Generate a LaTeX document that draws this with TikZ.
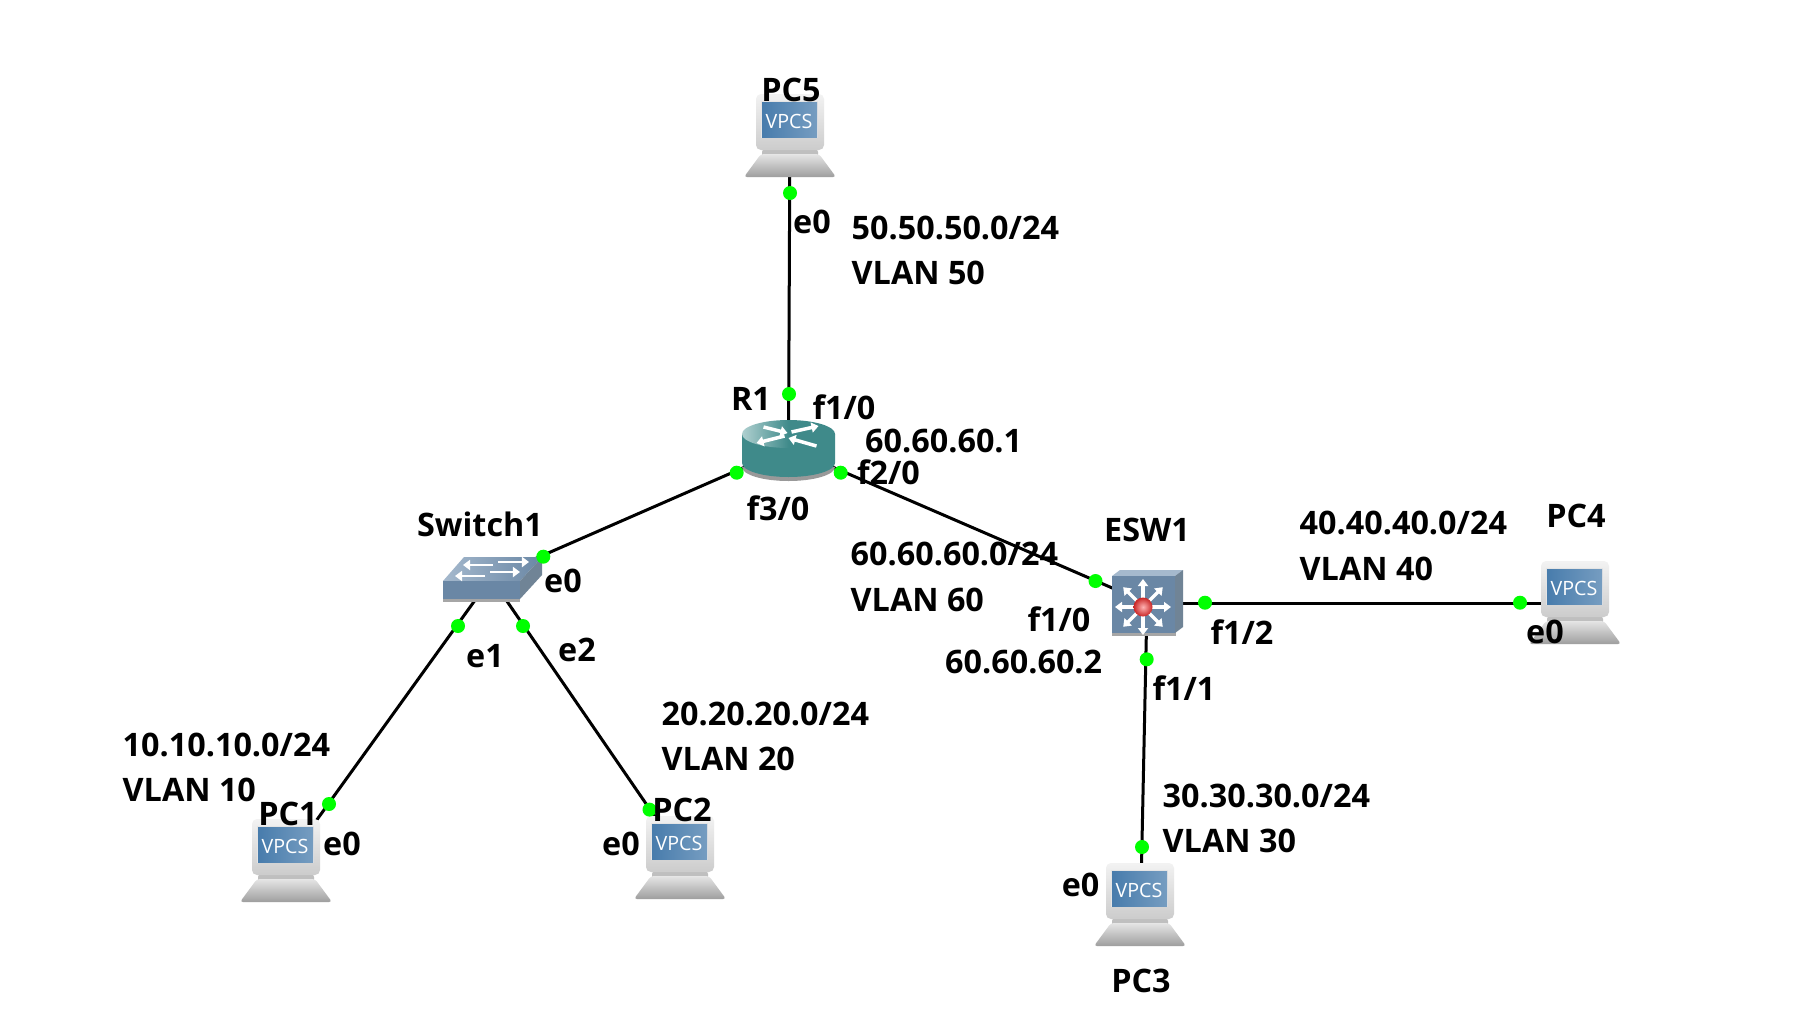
\documentclass[tikz,border=0pt]{standalone}
\usepackage{fontspec}
\setmainfont{Open Sans}
\usetikzlibrary{arrows.meta}
\definecolor{linkdot}{RGB}{0,255,0}
\definecolor{steel}{RGB}{106,135,165}
\definecolor{steeldark}{RGB}{112,132,150}
\definecolor{steellight}{RGB}{165,185,205}
\definecolor{teal1}{RGB}{63,138,138}
\definecolor{tealtop}{RGB}{175,208,208}
\definecolor{screenblue}{RGB}{72,124,172}
\tikzset{
	device/.style={inner sep=0pt,minimum size=0pt},
	link/.style={line width=0.03cm,black},
	portdot/.style={circle,fill=linkdot,inner sep=0pt,minimum size=0.14cm},
	lbl/.style={font=\fontsize{9.2pt}{11pt}\selectfont\bfseries,inner sep=0pt,text=black},
	lblw/.style={lbl,anchor=west},
	whitearrow/.style={white,line width=0.035cm,-{Triangle[length=0.07cm,width=0.1cm]}},
	thinarrow/.style={whitearrow,line width=0.025cm},
	vpcs/.pic={
		\fill[black!25,rounded corners=0.03cm] (-28,28) rectangle (28,36);
		\shade[top color=black!5,bottom color=black!20,rounded corners=0.05cm] (-34,-27) rectangle (34,29);
		\fill[white!80!gray] (-29,-20) rectangle (28,17);
		\shade[left color=screenblue,right color=screenblue!75!white] (-28,-19) rectangle (27,16);
		\node[white,inner sep=0pt,font=\fontsize{5.6pt}{6pt}\selectfont] (txt) at (-1,0) {VPCS};
		\shade[top color=black!10,bottom color=black!38,rounded corners=0.03cm] (-29,33) -- (29,33) -- (46,56) -- (-46,56) -- cycle;
	},
	routericon/.pic={
		\fill[black!40] (-46.5,19) arc[start angle=180,end angle=360,x radius=46.5,y radius=-14] -- cycle;
		\fill[teal1] (-46.5,-14) -- (-46.5,15) arc[start angle=180,end angle=360,x radius=46.5,y radius=-14] -- (46.5,-14) -- cycle;
		\shade[left color=tealtop,right color=teal1,middle color=teal1] (0,-14) circle[x radius=46.5,y radius=14];
		\draw[whitearrow] (-25,-21) -- (-1,-15);
		\draw[whitearrow] (3,-16) -- (30,-22);
		\draw[whitearrow] (-4,-12) -- (-32,-5);
		\draw[whitearrow] (28,-2) -- (0,-10);
	},
	switchicon/.pic={
		\fill[black!35] (-48,3) rectangle (29,24);
		\shade[left color=steellight,right color=steel] (-27,-21) -- (51,-21) -- (29,3) -- (-48,3) -- cycle;
		\fill[steel] (-48,3) rectangle (29,21);
		\fill[steeldark] (29,3) -- (51,-21) -- (51,-3) -- (29,21) -- cycle;
		\draw[thinarrow] (2,-13) -- (-28,-13);
		\draw[thinarrow] (7,-16) -- (38,-16);
		\draw[thinarrow] (-6,-2) -- (-36,-2);
		\draw[thinarrow] (-1,-6) -- (29,-6);
	},
	eswicon/.pic={
		\fill[black!35] (-35,-27) rectangle (29,33);
		\fill[steellight] (-35,-27) -- (-27,-33) -- (36,-33) -- (28,-27) -- cycle;
		\fill[steeldark] (28,-27) -- (36,-33) -- (36,24) -- (28,30) -- cycle;
		\fill[steel] (-35,-27) rectangle (28,30);
		\foreach \ang in {0,45,...,315}
			\draw[whitearrow] (-4,4) -- ++(\ang:28);
		\shade[inner color=red!30!white,outer color=red!75!black!85] (-4,4) circle[radius=9.5];
	}
}
\begin{document}
\begin{tikzpicture}[x=0.01cm,y=-0.01cm]
	\path[fill=white,use as bounding box] (0,0) rectangle (1793,1030);
	% link ends
	\node[device] (pc5) at (790,121) {};
	\node[device] (r1) at (788.5,448) {};
	\node[device] (sw1) at (491,578) {};
	\node[device] (esw1) at (1147,603) {};
	\node[device] (pc1) at (298,846) {};
	\node[device] (pc2) at (673,843) {};
	\node[device] (pc3) at (1141,890) {};
	\node[device] (pc4) at (1575,603) {};
	% links
	\draw[link] (pc5) -- (r1);
	\draw[link] (r1) -- (sw1);
	\draw[link] (r1) -- (esw1);
	\draw[link] (sw1) -- (pc1);
	\draw[link] (sw1) -- (pc2);
	\draw[link] (esw1) -- (pc3);
	\draw[link] (esw1) -- (pc4);
	% icons
	\pic at (790,121) {vpcs};
	\pic at (286,846) {vpcs};
	\pic at (680,843) {vpcs};
	\pic at (1140,890) {vpcs};
	\pic at (1575,588) {vpcs};
	\pic at (r1) {routericon};
	\pic at (sw1) {switchicon};
	\pic at (esw1) {eswicon};
	% port dots
	\node[portdot] (d1) at (790,193) {};
	\node[portdot] (d2) at (789,394) {};
	\node[portdot] (d3) at (736.7,472.7) {};
	\node[portdot] (d4) at (840.7,472.7) {};
	\node[portdot] (d5) at (543.3,556.7) {};
	\node[portdot] (d6) at (458,626) {};
	\node[portdot] (d7) at (523,626) {};
	\node[portdot] (d8) at (329,804) {};
	\node[portdot] (d9) at (649.5,809.6) {};
	\node[portdot] (d10) at (1095.5,581) {};
	\node[portdot] (d11) at (1205,602.7) {};
	\node[portdot] (d12) at (1146.7,659.3) {};
	\node[portdot] (d13) at (1142,847) {};
	\node[portdot] (d14) at (1520,602.7) {};
	% device names
	\node[lbl] (namepc5) at (791,90) {PC5};
	\node[lbl] (namer1) at (751,399) {R1};
	\node[lbl] (namesw1) at (480,524) {Switch1};
	\node[lbl] (nameesw1) at (1147,530) {ESW1};
	\node[lbl] (namepc4) at (1576,516) {PC4};
	\node[lbl] (namepc3) at (1141,981) {PC3};
	\node[lbl] (namepc2) at (682,810) {PC2};
	\node[lbl] (namepc1) at (288,814) {PC1};
	% port names
	\node[lbl] (p1) at (812,222) {e0};
	\node[lbl] (p2) at (844,407) {f1/0};
	\node[lbl] (p3) at (888.5,472) {f2/0};
	\node[lbl] (p4) at (778,508) {f3/0};
	\node[lbl] (p5) at (563,581) {e0};
	\node[lbl] (p6) at (485,656) {e1};
	\node[lbl] (p7) at (577,649.5) {e2};
	\node[lbl] (p8) at (1059,619) {f1/0};
	\node[lbl] (p9) at (1242,632) {f1/2};
	\node[lbl] (p10) at (1184,688) {f1/1};
	\node[lbl] (p11) at (1545,632) {e0};
	\node[lbl] (p12) at (1080.6,885) {e0};
	\node[lbl] (p13) at (621,844) {e0};
	\node[lbl] (p14) at (342,844) {e0};
	% subnets
	\node[lblw] (net50) at (851,228) {50.50.50.0/24};
	\node[lblw] (vlan50) at (851,272.5) {VLAN 50};
	\node[lblw] (ipr1) at (864.5,441) {60.60.60.1};
	\node[lblw] (net60) at (850,554) {60.60.60.0/24};
	\node[lblw] (vlan60) at (850,600) {VLAN 60};
	\node[lblw] (ipesw) at (944.5,662) {60.60.60.2};
	\node[lblw] (net40) at (1299,523) {40.40.40.0/24};
	\node[lblw] (vlan40) at (1299,569) {VLAN 40};
	\node[lblw] (net30) at (1162,796) {30.30.30.0/24};
	\node[lblw] (vlan30) at (1162,840.5) {VLAN 30};
	\node[lblw] (net20) at (661,713.5) {20.20.20.0/24};
	\node[lblw] (vlan20) at (661,758.5) {VLAN 20};
	\node[lblw] (net10) at (122,745) {10.10.10.0/24};
	\node[lblw] (vlan10) at (122,790) {VLAN 10};
\end{tikzpicture}
\end{document}
